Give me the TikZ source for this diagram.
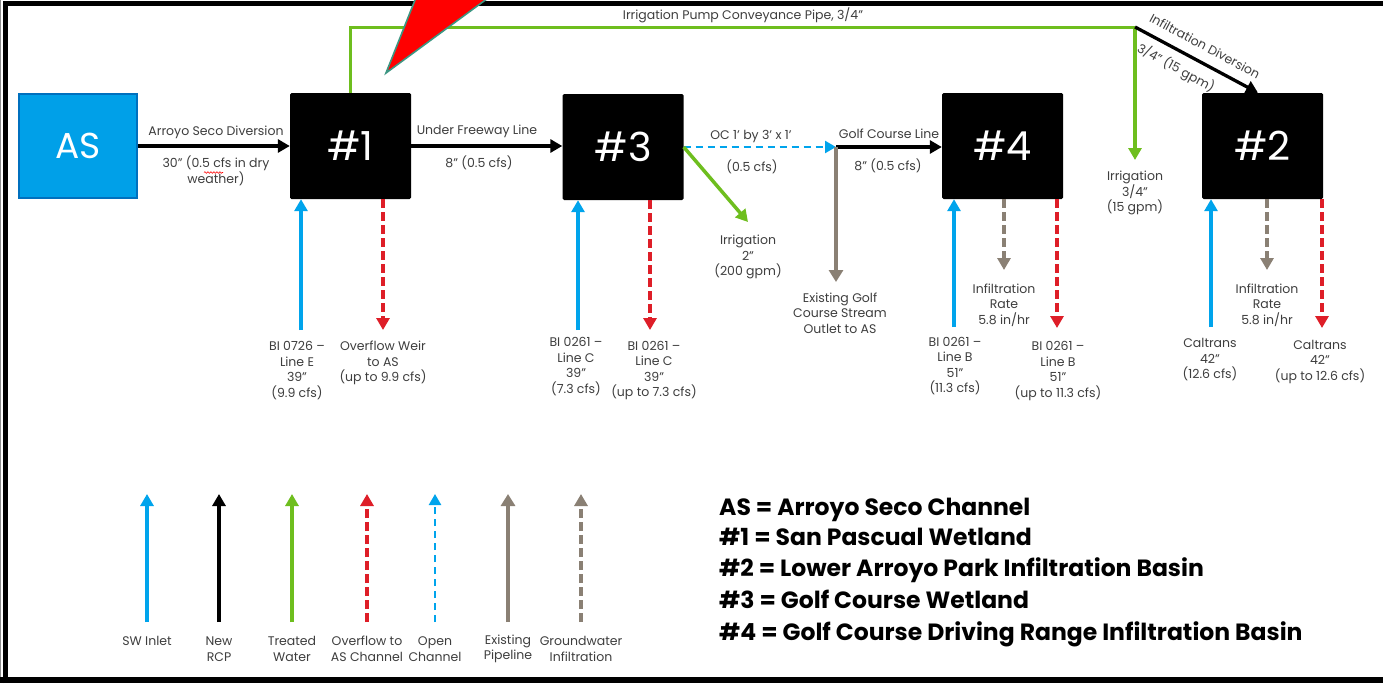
\documentclass[tikz,border=0pt]{standalone}
\usepackage{fontspec}
\setmainfont{Poppins}
\usetikzlibrary{arrows.meta,decorations.pathmorphing}
\definecolor{swblue}{RGB}{0,164,236}
\definecolor{asblue}{RGB}{0,160,232}
\definecolor{asborder}{RGB}{0,112,190}
\definecolor{tgreen}{RGB}{110,190,30}
\definecolor{ovred}{RGB}{222,30,40}
\definecolor{pgray}{RGB}{138,128,116}
\definecolor{lblgray}{RGB}{62,62,62}
\definecolor{teal2}{RGB}{60,150,130}
\tikzset{
  lbl/.style={text=lblgray, font=\fontsize{12.5}{15.5}\selectfont, align=center, inner sep=0pt},
  box/.style={fill=black, rounded corners=1.5pt, minimum width=121pt, minimum height=106pt, inner sep=0pt, text=white, font=\fontsize{40}{40}\selectfont},
  asbox/.style={fill=asblue, draw=asborder, line width=2pt, minimum width=118pt, minimum height=104pt, inner sep=0pt, text=white, font=\fontsize{36}{36}\selectfont},
  ahead/.style={-{Triangle[length=12pt,width=13pt]}},
  pipe/.style={ahead, line width=3.3pt, black},
  swin/.style={ahead, line width=3.5pt, swblue},
  treated/.style={ahead, line width=3.5pt, tgreen},
  overflow/.style={ahead, line width=3.5pt, ovred, dash pattern=on 9pt off 4pt},
  opench/.style={-{Triangle[length=11pt,width=12pt]}, line width=2.3pt, swblue, dash pattern=on 7pt off 5pt},
  exist/.style={-{Triangle[length=12pt,width=14pt]}, line width=4.5pt, pgray},
  gwinf/.style={ahead, line width=3.5pt, pgray, dash pattern=on 9pt off 4pt},
  keytext/.style={anchor=base west, inner sep=0pt, font=\bfseries\fontsize{23.5}{23.5}\selectfont}
}
\begin{document}
\begin{tikzpicture}[x=1pt,y=-1pt]
\useasboundingbox (0,0) rectangle (1383,683);
\clip (0,0) rectangle (1383,683);
\fill[white] (0,0) rectangle (1383,683);
% frame
\draw[black!45, line width=1pt] (0.8,0) -- (0.8,683);
\draw[black, line width=5.5pt] (5.5,683) -- (5.5,3.5) -- (1383,3.5);
\draw[black, line width=6pt] (0,680) -- (1383,680);

% boxes
\node[asbox] (as) at (78,146) {AS};
\node[box] (n1) at (350.5,146) {\#1};
\node[box] (n3) at (623,147) {\#3};
\node[box] (n4) at (1002.5,146) {\#4};
\node[box] (n2) at (1262.5,146) {\#2};

% AS -> #1
\draw[pipe] (as.east) -- (n1.west);
\node[lbl] (l1a) at (216,132) {Arroyo Seco Diversion};
\node[lbl] (l1b) at (216,171) {30" (0.5 cfs in dry\\weather)};
\draw[red, line width=0.6pt, decorate, decoration={snake, amplitude=0.8pt, segment length=3pt}] (204,172.5) -- (223,172.5);

% #1 -> #3
\draw[pipe] (n1.east) -- (n1.east -| n3.west);
\node[lbl] (l2a) at (477,131) {Under Freeway Line};
\node[lbl] (l2b) at (479,163) {8" (0.5 cfs)};

% #3 -> open channel -> golf course line
\coordinate (gj) at (836,147);
\draw[opench] (n3.east) -- (gj);
\node[lbl] (l3a) at (751,136) {OC 1' by 3' x 1'};
\node[lbl] (l3b) at (752,167) {(0.5 cfs)};
\draw[pipe] (gj) -- (gj -| n4.west);
\node[lbl] (l4a) at (889,134) {Golf Course Line};
\node[lbl] (l4b) at (888,166) {8" (0.5 cfs)};
\coordinate (gout) at (836,282);
\draw[exist] (gj) -- (gout);
\node[lbl] (l5) at (840,313) {Existing Golf\\Course Stream\\Outlet to AS};

% irrigation 2"
\coordinate (irr2) at (748,222);
\draw[treated] (n3.east) -- (irr2);
\node[lbl] (l6) at (748,257) {Irrigation\\2"\\(200 gpm)};

% irrigation pump conveyance pipe
\coordinate (pj) at (1135,27);
\draw[tgreen, line width=3pt] (n1.north) |- (pj);
\node[lbl] (l7) at (743,15) {Irrigation Pump Conveyance Pipe, 3/4"};
\coordinate (irr34) at (1135,160);
\draw[treated] (pj) -- (irr34);
\node[lbl] (l8) at (1135,193) {Irrigation\\3/4"\\(15 gpm)};
\draw[pipe] (pj) -- ([xshift=-4.5pt]n2.north);
\node[lbl, rotate=-28.2] (l9a) at (1205,46) {Infiltration Diversion};
\node[lbl, rotate=-28.2] (l9b) at (1176,68) {3/4" (15 gpm)};

% under #1
\coordinate (b1in) at (301,330);
\draw[swin] (b1in) -- (b1in |- n1.south);
\coordinate (b1ov) at (383,330);
\draw[overflow] (b1ov |- n1.south) -- (b1ov);
\node[lbl] (l10) at (297,370.5) {BI 0726 –\\Line E\\39"\\(9.9 cfs)};
\node[lbl] (l11) at (383,363) {Overflow Weir\\to AS\\(up to 9.9 cfs)};

% under #3
\coordinate (b3in) at (578,330);
\draw[swin] (b3in) -- (b3in |- n3.south);
\coordinate (b3ov) at (650,330);
\draw[overflow] (b3ov |- n3.south) -- (b3ov);
\node[lbl] (l12) at (576,366.5) {BI 0261 –\\Line C\\39"\\(7.3 cfs)};
\node[lbl] (l13) at (654,370.5) {BI 0261 –\\Line C\\39"\\(up to 7.3 cfs)};

% under #4
\coordinate (b4in) at (954,327);
\draw[swin] (b4in) -- (b4in |- n4.south);
\coordinate (b4gw) at (1004,270);
\draw[gwinf] (b4gw |- n4.south) -- (b4gw);
\coordinate (b4ov) at (1057,328);
\draw[overflow] (b4ov |- n4.south) -- (b4ov);
\node[lbl] (l14) at (1004,305) {Infiltration\\Rate\\5.8 in/hr};
\node[lbl] (l15) at (955,366) {BI 0261 –\\Line B\\51"\\(11.3 cfs)};
\node[lbl] (l16) at (1058,371) {BI 0261 –\\Line B\\51"\\(up to 11.3 cfs)};

% under #2
\coordinate (b2in) at (1211,327);
\draw[swin] (b2in) -- (b2in |- n2.south);
\coordinate (b2gw) at (1267,270);
\draw[gwinf] (b2gw |- n2.south) -- (b2gw);
\coordinate (b2ov) at (1322,328);
\draw[overflow] (b2ov |- n2.south) -- (b2ov);
\node[lbl] (l17) at (1267,305) {Infiltration\\Rate\\5.8 in/hr};
\node[lbl] (l18) at (1210,360) {Caltrans\\42"\\(12.6 cfs)};
\node[lbl] (l19) at (1320,361.5) {Caltrans\\42"\\(up to 12.6 cfs)};

% legend arrows
\coordinate (k1) at (147,622); \draw[swin] (k1) -- (147,494);
\coordinate (k2) at (219,622); \draw[pipe] (k2) -- (219,494);
\coordinate (k3) at (292,622); \draw[treated] (k3) -- (292,494);
\coordinate (k4) at (367,622); \draw[overflow] (k4) -- (367,494);
\coordinate (k5) at (435,622); \draw[opench] (k5) -- (435,494);
\coordinate (k6) at (508,622); \draw[exist] (k6) -- (508,494);
\coordinate (k7) at (581,622); \draw[gwinf] (k7) -- (581,494);
\node[lbl] (kl1) at (147,641) {SW Inlet};
\node[lbl] (kl2) at (219,649) {New\\RCP};
\node[lbl] (kl3) at (292,649) {Treated\\Water};
\node[lbl] (kl4) at (367,649) {Overflow to\\AS Channel};
\node[lbl] (kl5) at (435,649) {Open\\Channel};
\node[lbl] (kl6) at (508,649) {Existing\\Pipeline};
\node[lbl] (kl7) at (581,649) {Groundwater\\Infiltration};

% key
\node[keytext] (key1) at (719,515) {AS = Arroyo Seco Channel};
\node[keytext] (key2) at (719,545) {\#1 = San Pascual Wetland};
\node[keytext] (key3) at (719,576) {\#2 = Lower Arroyo Park Infiltration Basin};
\node[keytext] (key4) at (719,608) {\#3 = Golf Course Wetland};
\node[keytext] (key5) at (719,640) {\#4 = Golf Course Driving Range Infiltration Basin};

% red pointer
\filldraw[fill=red, draw=teal2, line width=1.6pt, line join=miter] (386,73) -- (419,-10) -- (499,-10) -- cycle;
\end{tikzpicture}
\end{document}
